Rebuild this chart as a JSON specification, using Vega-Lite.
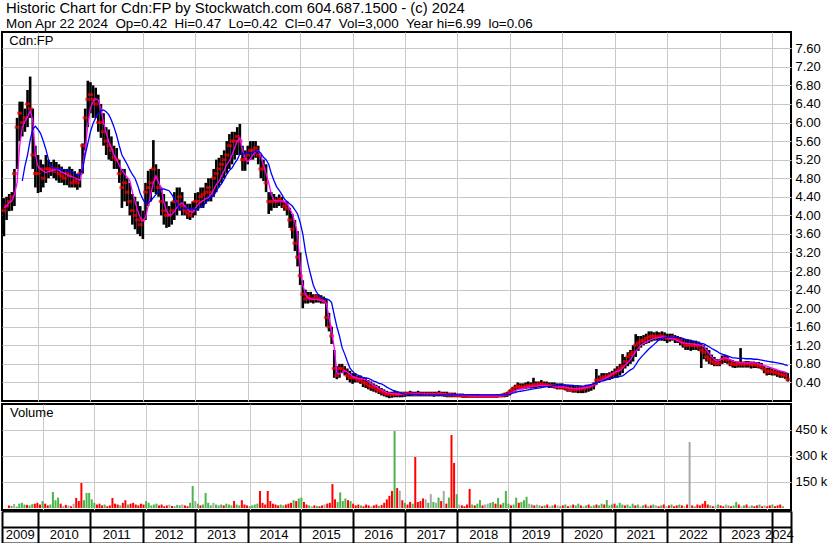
{
"$schema":"https://vega.github.io/schema/vega-lite/v6.json",
"padding":0,
"background":"white",
"config":{"font":"Liberation Sans","view":{"stroke":"black","strokeWidth":2},"axis":{"labelFont":"Liberation Sans","labelFontSize":13,"labelColor":"black","gridColor":"#c8c8c8","gridWidth":1,"ticks":false,"domain":false,"labelOverlap":false},"title":{"font":"Liberation Sans","fontSize":13,"fontWeight":"normal","color":"black","subtitleFont":"Liberation Sans","subtitleColor":"black"}},
"title":{"text":"Historic Chart for Cdn:FP by Stockwatch.com 604.687.1500 - (c) 2024","subtitle":"Mon Apr 22 2024\u00a0 Op=0.42\u00a0 Hi=0.47\u00a0 Lo=0.42\u00a0 Cl=0.47\u00a0 Vol=3,000\u00a0 Year hi=6.99\u00a0 lo=0.06","fontSize":14.8,"subtitleFontSize":13.4,"subtitlePadding":1,"anchor":"start","frame":"group","offset":1,"dx":4},
"datasets":{
"px":[
{"t":2009.35,"h":4.37,"l":3.55,"c":4.1,"m":4.16,"b":null,"v":15000,"d":"d"},
{"t":2009.40,"h":4.4,"l":3.9,"c":4.2,"m":4.2,"b":null,"v":12000,"d":"u"},
{"t":2009.45,"h":4.46,"l":4.09,"c":4.3,"m":4.28,"b":null,"v":23000,"d":"n"},
{"t":2009.50,"h":4.5,"l":4.1,"c":4.4,"m":4.31,"b":null,"v":8000,"d":"u"},
{"t":2009.55,"h":5.0,"l":4.2,"c":4.9,"m":4.45,"b":null,"v":25000,"d":"u"},
{"t":2009.60,"h":6.1,"l":5.0,"c":5.9,"m":4.7,"b":null,"v":30000,"d":"u"},
{"t":2009.65,"h":6.45,"l":5.6,"c":6.2,"m":5.5,"b":null,"v":20000,"d":"u"},
{"t":2009.70,"h":6.45,"l":5.7,"c":6.0,"m":5.9,"b":4.74,"v":18000,"d":"d"},
{"t":2009.75,"h":6.3,"l":5.8,"c":6.1,"m":6.03,"b":5.06,"v":15000,"d":"u"},
{"t":2009.80,"h":6.7,"l":5.9,"c":6.4,"m":6.12,"b":5.3,"v":22000,"d":"u"},
{"t":2009.85,"h":6.99,"l":6.1,"c":6.3,"m":6.25,"b":5.62,"v":25000,"d":"d"},
{"t":2009.90,"h":6.3,"l":5.0,"c":5.3,"m":6.05,"b":5.86,"v":30000,"d":"d"},
{"t":2009.95,"h":5.5,"l":4.6,"c":4.9,"m":5.3,"b":5.92,"v":20000,"d":"d"},
{"t":2010.00,"h":5.3,"l":4.48,"c":4.9,"m":5.05,"b":5.85,"v":40000,"d":"u"},
{"t":2010.05,"h":5.2,"l":4.5,"c":5.0,"m":5.0,"b":5.76,"v":25000,"d":"d"},
{"t":2010.10,"h":5.1,"l":4.6,"c":4.8,"m":4.95,"b":5.6,"v":15000,"d":"d"},
{"t":2010.15,"h":5.3,"l":4.7,"c":5.0,"m":4.92,"b":5.42,"v":20000,"d":"u"},
{"t":2010.20,"h":5.2,"l":4.8,"c":5.0,"m":4.94,"b":5.2,"v":92000,"d":"u"},
{"t":2010.25,"h":5.15,"l":4.85,"c":5.0,"m":4.96,"b":5.05,"v":45000,"d":"u"},
{"t":2010.30,"h":5.2,"l":4.8,"c":4.95,"m":4.98,"b":5.02,"v":60000,"d":"u"},
{"t":2010.35,"h":5.15,"l":4.75,"c":5.0,"m":5.0,"b":5.0,"v":25000,"d":"d"},
{"t":2010.40,"h":5.1,"l":4.7,"c":4.9,"m":4.97,"b":5.0,"v":12000,"d":"n"},
{"t":2010.45,"h":5.05,"l":4.7,"c":4.85,"m":4.93,"b":4.99,"v":18000,"d":"d"},
{"t":2010.50,"h":5.0,"l":4.65,"c":4.8,"m":4.91,"b":4.98,"v":15000,"d":"n"},
{"t":2010.55,"h":5.0,"l":4.65,"c":4.9,"m":4.88,"b":4.97,"v":10000,"d":"d"},
{"t":2010.60,"h":5.05,"l":4.6,"c":4.85,"m":4.85,"b":4.96,"v":25000,"d":"n"},
{"t":2010.65,"h":5.0,"l":4.6,"c":4.7,"m":4.83,"b":4.93,"v":58000,"d":"d"},
{"t":2010.70,"h":4.95,"l":4.6,"c":4.75,"m":4.81,"b":4.9,"v":40000,"d":"d"},
{"t":2010.75,"h":4.9,"l":4.55,"c":4.7,"m":4.78,"b":4.86,"v":144000,"d":"d"},
{"t":2010.80,"h":5.0,"l":4.6,"c":4.9,"m":4.75,"b":4.88,"v":45000,"d":"u"},
{"t":2010.85,"h":5.55,"l":4.9,"c":5.5,"m":5.05,"b":4.98,"v":87000,"d":"u"},
{"t":2010.90,"h":6.3,"l":5.4,"c":6.1,"m":5.4,"b":5.3,"v":87000,"d":"u"},
{"t":2010.95,"h":6.9,"l":5.9,"c":6.5,"m":5.95,"b":5.55,"v":50000,"d":"u"},
{"t":2011.00,"h":6.87,"l":6.2,"c":6.6,"m":6.31,"b":5.8,"v":30000,"d":"u"},
{"t":2011.05,"h":6.8,"l":6.1,"c":6.5,"m":6.45,"b":5.98,"v":20000,"d":"d"},
{"t":2011.10,"h":6.75,"l":6.1,"c":6.4,"m":6.51,"b":6.1,"v":25000,"d":"d"},
{"t":2011.15,"h":6.6,"l":5.8,"c":6.0,"m":6.48,"b":6.19,"v":15000,"d":"d"},
{"t":2011.20,"h":6.4,"l":5.67,"c":6.0,"m":6.3,"b":6.25,"v":20000,"d":"u"},
{"t":2011.25,"h":6.2,"l":5.5,"c":5.8,"m":6.0,"b":6.27,"v":10000,"d":"d"},
{"t":2011.30,"h":5.9,"l":5.3,"c":5.6,"m":5.78,"b":6.23,"v":15000,"d":"d"},
{"t":2011.35,"h":5.85,"l":5.2,"c":5.5,"m":5.58,"b":6.17,"v":58000,"d":"d"},
{"t":2011.40,"h":5.7,"l":5.17,"c":5.4,"m":5.45,"b":6.05,"v":25000,"d":"d"},
{"t":2011.45,"h":5.5,"l":5.0,"c":5.25,"m":5.3,"b":5.9,"v":20000,"d":"d"},
{"t":2011.50,"h":5.45,"l":5.0,"c":5.2,"m":5.2,"b":5.72,"v":15000,"d":"u"},
{"t":2011.55,"h":5.2,"l":4.7,"c":4.9,"m":5.08,"b":5.5,"v":30000,"d":"d"},
{"t":2011.60,"h":5.0,"l":4.16,"c":4.6,"m":4.97,"b":5.3,"v":45000,"d":"d"},
{"t":2011.65,"h":5.0,"l":4.3,"c":4.7,"m":4.9,"b":5.2,"v":20000,"d":"u"},
{"t":2011.70,"h":4.8,"l":4.2,"c":4.5,"m":4.82,"b":5.1,"v":25000,"d":"d"},
{"t":2011.75,"h":4.7,"l":4.0,"c":4.3,"m":4.75,"b":4.98,"v":30000,"d":"d"},
{"t":2011.80,"h":4.46,"l":3.8,"c":4.1,"m":4.5,"b":4.88,"v":20000,"d":"d"},
{"t":2011.85,"h":4.4,"l":3.7,"c":4.0,"m":4.3,"b":4.8,"v":15000,"d":"d"},
{"t":2011.90,"h":4.3,"l":3.6,"c":3.9,"m":4.1,"b":4.65,"v":25000,"d":"d"},
{"t":2011.95,"h":4.2,"l":3.55,"c":3.8,"m":3.95,"b":4.47,"v":20000,"d":"d"},
{"t":2012.00,"h":4.1,"l":3.49,"c":3.9,"m":3.88,"b":4.35,"v":40000,"d":"u"},
{"t":2012.05,"h":4.7,"l":3.9,"c":4.5,"m":3.95,"b":4.25,"v":30000,"d":"u"},
{"t":2012.10,"h":4.96,"l":4.2,"c":4.6,"m":4.2,"b":4.27,"v":15000,"d":"u"},
{"t":2012.15,"h":5.0,"l":4.3,"c":4.7,"m":4.46,"b":4.31,"v":20000,"d":"u"},
{"t":2012.20,"h":5.62,"l":4.5,"c":5.0,"m":4.7,"b":4.38,"v":25000,"d":"u"},
{"t":2012.25,"h":5.1,"l":4.46,"c":4.8,"m":4.85,"b":4.45,"v":15000,"d":"d"},
{"t":2012.30,"h":5.0,"l":4.4,"c":4.6,"m":4.7,"b":4.5,"v":20000,"d":"d"},
{"t":2012.35,"h":4.6,"l":4.0,"c":4.3,"m":4.6,"b":4.56,"v":10000,"d":"d"},
{"t":2012.40,"h":4.46,"l":3.8,"c":4.1,"m":4.28,"b":4.57,"v":15000,"d":"d"},
{"t":2012.45,"h":4.3,"l":3.73,"c":4.0,"m":4.1,"b":4.55,"v":20000,"d":"n"},
{"t":2012.50,"h":4.2,"l":3.75,"c":4.0,"m":4.0,"b":4.53,"v":12000,"d":"d"},
{"t":2012.55,"h":4.3,"l":3.8,"c":4.1,"m":4.02,"b":4.45,"v":10000,"d":"u"},
{"t":2012.60,"h":4.5,"l":3.9,"c":4.3,"m":4.08,"b":4.36,"v":18000,"d":"u"},
{"t":2012.65,"h":4.6,"l":4.0,"c":4.3,"m":4.17,"b":4.25,"v":15000,"d":"u"},
{"t":2012.70,"h":4.6,"l":4.1,"c":4.4,"m":4.24,"b":4.14,"v":20000,"d":"n"},
{"t":2012.75,"h":4.5,"l":4.0,"c":4.2,"m":4.27,"b":4.15,"v":15000,"d":"d"},
{"t":2012.80,"h":4.3,"l":4.0,"c":4.1,"m":4.2,"b":4.16,"v":10000,"d":"d"},
{"t":2012.85,"h":4.25,"l":3.92,"c":4.05,"m":4.14,"b":4.15,"v":30000,"d":"u"},
{"t":2012.90,"h":4.25,"l":3.9,"c":4.0,"m":4.08,"b":4.14,"v":127000,"d":"u"},
{"t":2012.95,"h":4.3,"l":3.95,"c":4.1,"m":4.06,"b":4.14,"v":40000,"d":"n"},
{"t":2013.00,"h":4.48,"l":4.0,"c":4.3,"m":4.15,"b":4.14,"v":25000,"d":"u"},
{"t":2013.05,"h":4.5,"l":4.1,"c":4.3,"m":4.23,"b":4.15,"v":15000,"d":"d"},
{"t":2013.10,"h":4.6,"l":4.16,"c":4.4,"m":4.28,"b":4.17,"v":20000,"d":"u"},
{"t":2013.15,"h":4.6,"l":4.16,"c":4.45,"m":4.32,"b":4.2,"v":87000,"d":"u"},
{"t":2013.20,"h":4.7,"l":4.25,"c":4.5,"m":4.36,"b":4.28,"v":30000,"d":"u"},
{"t":2013.25,"h":4.8,"l":4.3,"c":4.6,"m":4.38,"b":4.35,"v":15000,"d":"u"},
{"t":2013.30,"h":4.8,"l":4.3,"c":4.5,"m":4.45,"b":4.4,"v":30000,"d":"n"},
{"t":2013.35,"h":5.0,"l":4.4,"c":4.8,"m":4.55,"b":4.42,"v":20000,"d":"u"},
{"t":2013.40,"h":5.2,"l":4.5,"c":4.9,"m":4.66,"b":4.52,"v":15000,"d":"u"},
{"t":2013.45,"h":5.24,"l":4.6,"c":5.0,"m":4.73,"b":4.62,"v":20000,"d":"u"},
{"t":2013.50,"h":5.3,"l":4.7,"c":5.1,"m":4.85,"b":4.68,"v":15000,"d":"d"},
{"t":2013.55,"h":5.4,"l":4.8,"c":5.2,"m":4.96,"b":4.78,"v":25000,"d":"u"},
{"t":2013.60,"h":5.6,"l":4.9,"c":5.3,"m":5.1,"b":4.88,"v":20000,"d":"u"},
{"t":2013.65,"h":5.75,"l":5.0,"c":5.5,"m":5.17,"b":4.97,"v":15000,"d":"u"},
{"t":2013.70,"h":5.8,"l":5.1,"c":5.6,"m":5.3,"b":5.02,"v":40000,"d":"d"},
{"t":2013.75,"h":5.8,"l":5.2,"c":5.6,"m":5.45,"b":5.12,"v":20000,"d":"u"},
{"t":2013.80,"h":5.9,"l":5.3,"c":5.7,"m":5.6,"b":5.2,"v":15000,"d":"u"},
{"t":2013.85,"h":5.97,"l":5.3,"c":5.6,"m":5.67,"b":5.32,"v":45000,"d":"d"},
{"t":2013.90,"h":5.5,"l":4.96,"c":5.2,"m":5.4,"b":5.33,"v":20000,"d":"d"},
{"t":2013.95,"h":5.4,"l":4.96,"c":5.2,"m":5.24,"b":5.33,"v":15000,"d":"d"},
{"t":2014.00,"h":5.5,"l":5.1,"c":5.3,"m":5.15,"b":5.34,"v":10000,"d":"u"},
{"t":2014.05,"h":5.6,"l":5.2,"c":5.4,"m":5.22,"b":5.34,"v":15000,"d":"u"},
{"t":2014.10,"h":5.6,"l":5.2,"c":5.4,"m":5.3,"b":5.36,"v":20000,"d":"u"},
{"t":2014.15,"h":5.6,"l":5.24,"c":5.45,"m":5.37,"b":5.38,"v":25000,"d":"u"},
{"t":2014.20,"h":5.5,"l":5.1,"c":5.3,"m":5.4,"b":5.39,"v":98000,"d":"d"},
{"t":2014.25,"h":5.3,"l":4.8,"c":5.0,"m":5.28,"b":5.34,"v":30000,"d":"d"},
{"t":2014.30,"h":5.2,"l":4.74,"c":5.0,"m":5.08,"b":5.25,"v":20000,"d":"d"},
{"t":2014.35,"h":5.1,"l":4.5,"c":4.7,"m":4.9,"b":5.2,"v":98000,"d":"d"},
{"t":2014.40,"h":4.5,"l":4.03,"c":4.3,"m":4.7,"b":5.1,"v":40000,"d":"d"},
{"t":2014.45,"h":4.5,"l":4.1,"c":4.3,"m":4.45,"b":4.9,"v":25000,"d":"d"},
{"t":2014.50,"h":4.46,"l":4.16,"c":4.3,"m":4.33,"b":4.75,"v":20000,"d":"d"},
{"t":2014.55,"h":4.4,"l":4.16,"c":4.3,"m":4.31,"b":4.62,"v":15000,"d":"d"},
{"t":2014.60,"h":4.45,"l":4.2,"c":4.35,"m":4.31,"b":4.54,"v":20000,"d":"u"},
{"t":2014.65,"h":4.4,"l":4.16,"c":4.3,"m":4.31,"b":4.45,"v":15000,"d":"u"},
{"t":2014.70,"h":4.3,"l":4.1,"c":4.2,"m":4.29,"b":4.35,"v":20000,"d":"d"},
{"t":2014.75,"h":4.3,"l":4.0,"c":4.15,"m":4.25,"b":4.3,"v":25000,"d":"d"},
{"t":2014.80,"h":4.16,"l":3.73,"c":3.9,"m":4.15,"b":4.25,"v":30000,"d":"d"},
{"t":2014.85,"h":4.03,"l":3.5,"c":3.7,"m":4.03,"b":4.2,"v":45000,"d":"u"},
{"t":2014.90,"h":3.9,"l":3.23,"c":3.4,"m":3.85,"b":4.12,"v":40000,"d":"d"},
{"t":2014.95,"h":3.66,"l":2.9,"c":3.1,"m":3.6,"b":4.03,"v":55000,"d":"u"},
{"t":2015.00,"h":3.2,"l":2.5,"c":2.7,"m":2.9,"b":3.85,"v":60000,"d":"u"},
{"t":2015.05,"h":2.6,"l":2.0,"c":2.3,"m":2.5,"b":3.6,"v":35000,"d":"d"},
{"t":2015.10,"h":2.4,"l":2.1,"c":2.2,"m":2.3,"b":3.23,"v":20000,"d":"d"},
{"t":2015.15,"h":2.35,"l":2.1,"c":2.25,"m":2.22,"b":2.95,"v":15000,"d":"u"},
{"t":2015.20,"h":2.35,"l":2.12,"c":2.2,"m":2.2,"b":2.72,"v":10000,"d":"n"},
{"t":2015.25,"h":2.3,"l":2.1,"c":2.2,"m":2.19,"b":2.5,"v":15000,"d":"d"},
{"t":2015.30,"h":2.3,"l":2.12,"c":2.25,"m":2.19,"b":2.37,"v":12000,"d":"u"},
{"t":2015.35,"h":2.3,"l":2.12,"c":2.2,"m":2.18,"b":2.28,"v":10000,"d":"d"},
{"t":2015.40,"h":2.28,"l":2.1,"c":2.2,"m":2.17,"b":2.22,"v":15000,"d":"d"},
{"t":2015.45,"h":2.25,"l":2.1,"c":2.15,"m":2.16,"b":2.21,"v":20000,"d":"n"},
{"t":2015.50,"h":2.2,"l":1.6,"c":1.8,"m":2.1,"b":2.2,"v":25000,"d":"d"},
{"t":2015.55,"h":1.9,"l":1.5,"c":1.6,"m":1.8,"b":2.18,"v":30000,"d":"d"},
{"t":2015.60,"h":1.6,"l":1.23,"c":1.4,"m":1.5,"b":2.12,"v":138000,"d":"d"},
{"t":2015.65,"h":1.1,"l":0.5,"c":0.7,"m":1.15,"b":1.85,"v":50000,"d":"d"},
{"t":2015.70,"h":0.75,"l":0.47,"c":0.55,"m":0.6,"b":1.6,"v":35000,"d":"u"},
{"t":2015.75,"h":0.8,"l":0.5,"c":0.7,"m":0.58,"b":1.4,"v":90000,"d":"u"},
{"t":2015.80,"h":0.8,"l":0.6,"c":0.7,"m":0.62,"b":1.15,"v":40000,"d":"u"},
{"t":2015.85,"h":0.75,"l":0.55,"c":0.65,"m":0.65,"b":1.01,"v":55000,"d":"u"},
{"t":2015.90,"h":0.7,"l":0.45,"c":0.55,"m":0.62,"b":0.85,"v":45000,"d":"d"},
{"t":2015.95,"h":0.65,"l":0.4,"c":0.5,"m":0.58,"b":0.71,"v":40000,"d":"u"},
{"t":2016.00,"h":0.6,"l":0.37,"c":0.5,"m":0.53,"b":0.64,"v":25000,"d":"d"},
{"t":2016.05,"h":0.6,"l":0.4,"c":0.5,"m":0.5,"b":0.58,"v":15000,"d":"d"},
{"t":2016.10,"h":0.55,"l":0.4,"c":0.45,"m":0.49,"b":0.56,"v":20000,"d":"d"},
{"t":2016.15,"h":0.55,"l":0.37,"c":0.45,"m":0.48,"b":0.53,"v":15000,"d":"u"},
{"t":2016.20,"h":0.5,"l":0.3,"c":0.4,"m":0.47,"b":0.51,"v":10000,"d":"d"},
{"t":2016.25,"h":0.5,"l":0.28,"c":0.38,"m":0.46,"b":0.5,"v":20000,"d":"d"},
{"t":2016.30,"h":0.45,"l":0.25,"c":0.33,"m":0.42,"b":0.49,"v":15000,"d":"d"},
{"t":2016.35,"h":0.42,"l":0.22,"c":0.3,"m":0.38,"b":0.46,"v":10000,"d":"n"},
{"t":2016.40,"h":0.38,"l":0.2,"c":0.3,"m":0.34,"b":0.43,"v":15000,"d":"d"},
{"t":2016.45,"h":0.35,"l":0.18,"c":0.25,"m":0.31,"b":0.41,"v":20000,"d":"d"},
{"t":2016.50,"h":0.32,"l":0.15,"c":0.22,"m":0.27,"b":0.38,"v":12000,"d":"u"},
{"t":2016.55,"h":0.28,"l":0.12,"c":0.2,"m":0.24,"b":0.37,"v":18000,"d":"d"},
{"t":2016.60,"h":0.25,"l":0.1,"c":0.17,"m":0.21,"b":0.34,"v":30000,"d":"d"},
{"t":2016.65,"h":0.22,"l":0.08,"c":0.15,"m":0.18,"b":0.3,"v":50000,"d":"d"},
{"t":2016.70,"h":0.2,"l":0.06,"c":0.14,"m":0.17,"b":0.27,"v":70000,"d":"d"},
{"t":2016.75,"h":0.2,"l":0.07,"c":0.14,"m":0.16,"b":0.24,"v":98000,"d":"d"},
{"t":2016.80,"h":0.22,"l":0.08,"c":0.15,"m":0.16,"b":0.22,"v":444000,"d":"u"},
{"t":2016.85,"h":0.2,"l":0.08,"c":0.14,"m":0.15,"b":0.2,"v":115000,"d":"d"},
{"t":2016.90,"h":0.2,"l":0.08,"c":0.15,"m":0.15,"b":0.18,"v":100000,"d":"n"},
{"t":2016.95,"h":0.2,"l":0.08,"c":0.16,"m":0.15,"b":0.16,"v":45000,"d":"d"},
{"t":2017.00,"h":0.2,"l":0.09,"c":0.15,"m":0.15,"b":0.15,"v":30000,"d":"u"},
{"t":2017.05,"h":0.2,"l":0.1,"c":0.16,"m":0.15,"b":0.15,"v":20000,"d":"d"},
{"t":2017.10,"h":0.22,"l":0.1,"c":0.17,"m":0.15,"b":0.14,"v":35000,"d":"d"},
{"t":2017.15,"h":0.2,"l":0.1,"c":0.15,"m":0.16,"b":0.14,"v":25000,"d":"u"},
{"t":2017.20,"h":0.2,"l":0.1,"c":0.14,"m":0.16,"b":0.14,"v":294000,"d":"d"},
{"t":2017.25,"h":0.22,"l":0.1,"c":0.16,"m":0.16,"b":0.14,"v":35000,"d":"d"},
{"t":2017.30,"h":0.2,"l":0.1,"c":0.15,"m":0.15,"b":0.14,"v":40000,"d":"d"},
{"t":2017.35,"h":0.2,"l":0.1,"c":0.15,"m":0.15,"b":0.13,"v":55000,"d":"d"},
{"t":2017.40,"h":0.2,"l":0.1,"c":0.14,"m":0.15,"b":0.13,"v":50000,"d":"n"},
{"t":2017.45,"h":0.2,"l":0.1,"c":0.15,"m":0.15,"b":0.13,"v":30000,"d":"u"},
{"t":2017.50,"h":0.2,"l":0.1,"c":0.15,"m":0.15,"b":0.13,"v":80000,"d":"n"},
{"t":2017.55,"h":0.2,"l":0.09,"c":0.14,"m":0.15,"b":0.13,"v":35000,"d":"u"},
{"t":2017.60,"h":0.2,"l":0.1,"c":0.15,"m":0.15,"b":0.13,"v":30000,"d":"n"},
{"t":2017.65,"h":0.22,"l":0.1,"c":0.16,"m":0.15,"b":0.13,"v":60000,"d":"u"},
{"t":2017.70,"h":0.2,"l":0.1,"c":0.15,"m":0.15,"b":0.13,"v":40000,"d":"d"},
{"t":2017.75,"h":0.2,"l":0.09,"c":0.14,"m":0.15,"b":0.13,"v":98000,"d":"n"},
{"t":2017.80,"h":0.2,"l":0.08,"c":0.13,"m":0.14,"b":0.13,"v":25000,"d":"d"},
{"t":2017.85,"h":0.18,"l":0.08,"c":0.13,"m":0.14,"b":0.13,"v":60000,"d":"u"},
{"t":2017.90,"h":0.18,"l":0.08,"c":0.13,"m":0.14,"b":0.13,"v":421000,"d":"d"},
{"t":2017.95,"h":0.18,"l":0.08,"c":0.12,"m":0.13,"b":0.13,"v":260000,"d":"d"},
{"t":2018.00,"h":0.16,"l":0.08,"c":0.12,"m":0.13,"b":0.13,"v":80000,"d":"u"},
{"t":2018.05,"h":0.16,"l":0.08,"c":0.12,"m":0.13,"b":0.13,"v":20000,"d":"n"},
{"t":2018.10,"h":0.16,"l":0.07,"c":0.11,"m":0.12,"b":0.13,"v":15000,"d":"d"},
{"t":2018.15,"h":0.15,"l":0.07,"c":0.11,"m":0.12,"b":0.13,"v":10000,"d":"d"},
{"t":2018.20,"h":0.15,"l":0.07,"c":0.1,"m":0.12,"b":0.13,"v":20000,"d":"d"},
{"t":2018.25,"h":0.15,"l":0.07,"c":0.1,"m":0.11,"b":0.13,"v":110000,"d":"d"},
{"t":2018.30,"h":0.15,"l":0.07,"c":0.11,"m":0.11,"b":0.13,"v":20000,"d":"u"},
{"t":2018.35,"h":0.15,"l":0.07,"c":0.11,"m":0.11,"b":0.13,"v":15000,"d":"d"},
{"t":2018.40,"h":0.15,"l":0.07,"c":0.1,"m":0.11,"b":0.13,"v":25000,"d":"u"},
{"t":2018.45,"h":0.14,"l":0.07,"c":0.1,"m":0.11,"b":0.13,"v":46000,"d":"u"},
{"t":2018.50,"h":0.14,"l":0.07,"c":0.1,"m":0.11,"b":0.13,"v":15000,"d":"d"},
{"t":2018.55,"h":0.14,"l":0.07,"c":0.1,"m":0.11,"b":0.13,"v":20000,"d":"n"},
{"t":2018.60,"h":0.14,"l":0.07,"c":0.1,"m":0.11,"b":0.13,"v":25000,"d":"n"},
{"t":2018.65,"h":0.14,"l":0.07,"c":0.1,"m":0.11,"b":0.13,"v":30000,"d":"u"},
{"t":2018.70,"h":0.14,"l":0.07,"c":0.1,"m":0.11,"b":0.13,"v":35000,"d":"u"},
{"t":2018.75,"h":0.15,"l":0.07,"c":0.11,"m":0.11,"b":0.13,"v":25000,"d":"d"},
{"t":2018.80,"h":0.15,"l":0.08,"c":0.11,"m":0.11,"b":0.13,"v":58000,"d":"u"},
{"t":2018.85,"h":0.16,"l":0.08,"c":0.12,"m":0.12,"b":0.13,"v":20000,"d":"d"},
{"t":2018.90,"h":0.18,"l":0.08,"c":0.13,"m":0.13,"b":0.13,"v":30000,"d":"u"},
{"t":2018.95,"h":0.2,"l":0.09,"c":0.15,"m":0.14,"b":0.14,"v":98000,"d":"u"},
{"t":2019.00,"h":0.25,"l":0.12,"c":0.2,"m":0.16,"b":0.15,"v":25000,"d":"u"},
{"t":2019.05,"h":0.3,"l":0.18,"c":0.25,"m":0.19,"b":0.17,"v":15000,"d":"d"},
{"t":2019.10,"h":0.35,"l":0.2,"c":0.3,"m":0.22,"b":0.18,"v":20000,"d":"u"},
{"t":2019.15,"h":0.4,"l":0.24,"c":0.32,"m":0.25,"b":0.2,"v":60000,"d":"u"},
{"t":2019.20,"h":0.38,"l":0.25,"c":0.3,"m":0.26,"b":0.21,"v":30000,"d":"d"},
{"t":2019.25,"h":0.38,"l":0.25,"c":0.3,"m":0.27,"b":0.22,"v":35000,"d":"u"},
{"t":2019.30,"h":0.4,"l":0.26,"c":0.32,"m":0.28,"b":0.23,"v":45000,"d":"u"},
{"t":2019.35,"h":0.42,"l":0.27,"c":0.33,"m":0.3,"b":0.24,"v":65000,"d":"u"},
{"t":2019.40,"h":0.4,"l":0.27,"c":0.33,"m":0.31,"b":0.25,"v":25000,"d":"n"},
{"t":2019.45,"h":0.5,"l":0.28,"c":0.35,"m":0.32,"b":0.26,"v":20000,"d":"u"},
{"t":2019.50,"h":0.42,"l":0.28,"c":0.35,"m":0.32,"b":0.27,"v":15000,"d":"d"},
{"t":2019.55,"h":0.42,"l":0.3,"c":0.36,"m":0.33,"b":0.28,"v":20000,"d":"n"},
{"t":2019.60,"h":0.45,"l":0.3,"c":0.37,"m":0.33,"b":0.29,"v":15000,"d":"u"},
{"t":2019.65,"h":0.42,"l":0.3,"c":0.35,"m":0.33,"b":0.3,"v":10000,"d":"d"},
{"t":2019.70,"h":0.42,"l":0.3,"c":0.35,"m":0.33,"b":0.31,"v":15000,"d":"u"},
{"t":2019.75,"h":0.4,"l":0.28,"c":0.33,"m":0.32,"b":0.31,"v":20000,"d":"d"},
{"t":2019.80,"h":0.4,"l":0.28,"c":0.33,"m":0.32,"b":0.32,"v":10000,"d":"n"},
{"t":2019.85,"h":0.4,"l":0.27,"c":0.32,"m":0.31,"b":0.33,"v":15000,"d":"u"},
{"t":2019.90,"h":0.38,"l":0.25,"c":0.3,"m":0.31,"b":0.33,"v":20000,"d":"d"},
{"t":2019.95,"h":0.38,"l":0.25,"c":0.3,"m":0.3,"b":0.34,"v":15000,"d":"n"},
{"t":2020.00,"h":0.38,"l":0.25,"c":0.3,"m":0.3,"b":0.34,"v":10000,"d":"u"},
{"t":2020.05,"h":0.36,"l":0.23,"c":0.28,"m":0.3,"b":0.34,"v":15000,"d":"d"},
{"t":2020.10,"h":0.35,"l":0.2,"c":0.25,"m":0.29,"b":0.34,"v":20000,"d":"u"},
{"t":2020.15,"h":0.34,"l":0.2,"c":0.25,"m":0.28,"b":0.34,"v":10000,"d":"d"},
{"t":2020.20,"h":0.35,"l":0.18,"c":0.24,"m":0.27,"b":0.33,"v":15000,"d":"n"},
{"t":2020.25,"h":0.32,"l":0.18,"c":0.24,"m":0.27,"b":0.33,"v":20000,"d":"d"},
{"t":2020.30,"h":0.32,"l":0.17,"c":0.25,"m":0.27,"b":0.33,"v":15000,"d":"u"},
{"t":2020.35,"h":0.33,"l":0.17,"c":0.26,"m":0.27,"b":0.32,"v":25000,"d":"u"},
{"t":2020.40,"h":0.32,"l":0.17,"c":0.26,"m":0.28,"b":0.32,"v":15000,"d":"d"},
{"t":2020.45,"h":0.35,"l":0.18,"c":0.28,"m":0.29,"b":0.33,"v":10000,"d":"n"},
{"t":2020.50,"h":0.35,"l":0.2,"c":0.3,"m":0.3,"b":0.34,"v":15000,"d":"u"},
{"t":2020.55,"h":0.36,"l":0.22,"c":0.32,"m":0.32,"b":0.35,"v":20000,"d":"d"},
{"t":2020.60,"h":0.4,"l":0.25,"c":0.35,"m":0.35,"b":0.37,"v":10000,"d":"u"},
{"t":2020.65,"h":0.69,"l":0.35,"c":0.45,"m":0.39,"b":0.39,"v":15000,"d":"u"},
{"t":2020.70,"h":0.55,"l":0.39,"c":0.45,"m":0.42,"b":0.41,"v":20000,"d":"d"},
{"t":2020.75,"h":0.6,"l":0.43,"c":0.5,"m":0.45,"b":0.43,"v":15000,"d":"u"},
{"t":2020.80,"h":0.6,"l":0.43,"c":0.52,"m":0.48,"b":0.44,"v":25000,"d":"u"},
{"t":2020.85,"h":0.6,"l":0.45,"c":0.52,"m":0.51,"b":0.46,"v":20000,"d":"d"},
{"t":2020.90,"h":0.62,"l":0.45,"c":0.55,"m":0.54,"b":0.47,"v":46000,"d":"u"},
{"t":2020.95,"h":0.65,"l":0.48,"c":0.58,"m":0.58,"b":0.49,"v":15000,"d":"u"},
{"t":2021.00,"h":0.7,"l":0.5,"c":0.6,"m":0.62,"b":0.51,"v":20000,"d":"u"},
{"t":2021.05,"h":0.75,"l":0.5,"c":0.65,"m":0.64,"b":0.52,"v":25000,"d":"d"},
{"t":2021.10,"h":0.8,"l":0.55,"c":0.7,"m":0.66,"b":0.53,"v":15000,"d":"u"},
{"t":2021.15,"h":1.01,"l":0.6,"c":0.75,"m":0.72,"b":0.54,"v":30000,"d":"u"},
{"t":2021.20,"h":0.95,"l":0.7,"c":0.85,"m":0.78,"b":0.58,"v":20000,"d":"u"},
{"t":2021.25,"h":1.05,"l":0.75,"c":0.95,"m":0.83,"b":0.63,"v":15000,"d":"d"},
{"t":2021.30,"h":1.1,"l":0.8,"c":1.0,"m":0.89,"b":0.67,"v":20000,"d":"u"},
{"t":2021.35,"h":1.2,"l":0.85,"c":1.05,"m":0.98,"b":0.7,"v":10000,"d":"u"},
{"t":2021.40,"h":1.44,"l":0.95,"c":1.2,"m":1.07,"b":0.78,"v":25000,"d":"u"},
{"t":2021.45,"h":1.4,"l":1.08,"c":1.25,"m":1.14,"b":0.87,"v":15000,"d":"d"},
{"t":2021.50,"h":1.4,"l":1.15,"c":1.3,"m":1.2,"b":0.94,"v":20000,"d":"u"},
{"t":2021.55,"h":1.42,"l":1.2,"c":1.3,"m":1.24,"b":1.0,"v":10000,"d":"n"},
{"t":2021.60,"h":1.45,"l":1.23,"c":1.35,"m":1.27,"b":1.06,"v":15000,"d":"u"},
{"t":2021.65,"h":1.5,"l":1.25,"c":1.38,"m":1.3,"b":1.12,"v":20000,"d":"d"},
{"t":2021.70,"h":1.5,"l":1.28,"c":1.4,"m":1.33,"b":1.17,"v":10000,"d":"u"},
{"t":2021.75,"h":1.48,"l":1.3,"c":1.4,"m":1.35,"b":1.22,"v":15000,"d":"d"},
{"t":2021.80,"h":1.5,"l":1.3,"c":1.38,"m":1.36,"b":1.27,"v":20000,"d":"u"},
{"t":2021.85,"h":1.48,"l":1.3,"c":1.4,"m":1.37,"b":1.33,"v":15000,"d":"n"},
{"t":2021.90,"h":1.5,"l":1.3,"c":1.4,"m":1.38,"b":1.35,"v":10000,"d":"d"},
{"t":2021.95,"h":1.48,"l":1.29,"c":1.38,"m":1.37,"b":1.36,"v":15000,"d":"u"},
{"t":2022.00,"h":1.45,"l":1.25,"c":1.35,"m":1.36,"b":1.37,"v":20000,"d":"d"},
{"t":2022.05,"h":1.45,"l":1.28,"c":1.35,"m":1.35,"b":1.38,"v":10000,"d":"n"},
{"t":2022.10,"h":1.45,"l":1.3,"c":1.38,"m":1.34,"b":1.37,"v":15000,"d":"d"},
{"t":2022.15,"h":1.42,"l":1.25,"c":1.35,"m":1.33,"b":1.37,"v":20000,"d":"u"},
{"t":2022.20,"h":1.4,"l":1.25,"c":1.32,"m":1.3,"b":1.37,"v":10000,"d":"d"},
{"t":2022.25,"h":1.38,"l":1.2,"c":1.3,"m":1.27,"b":1.36,"v":15000,"d":"d"},
{"t":2022.30,"h":1.35,"l":1.15,"c":1.25,"m":1.25,"b":1.35,"v":20000,"d":"u"},
{"t":2022.35,"h":1.33,"l":1.1,"c":1.2,"m":1.24,"b":1.33,"v":15000,"d":"d"},
{"t":2022.40,"h":1.33,"l":1.1,"c":1.2,"m":1.24,"b":1.31,"v":10000,"d":"n"},
{"t":2022.45,"h":1.32,"l":1.08,"c":1.2,"m":1.23,"b":1.3,"v":20000,"d":"d"},
{"t":2022.50,"h":1.3,"l":1.1,"c":1.2,"m":1.23,"b":1.29,"v":381000,"d":"n"},
{"t":2022.55,"h":1.3,"l":1.1,"c":1.2,"m":1.22,"b":1.27,"v":15000,"d":"d"},
{"t":2022.60,"h":1.28,"l":1.08,"c":1.18,"m":1.21,"b":1.26,"v":10000,"d":"u"},
{"t":2022.65,"h":1.25,"l":0.71,"c":1.1,"m":1.2,"b":1.24,"v":20000,"d":"d"},
{"t":2022.70,"h":1.2,"l":0.9,"c":1.05,"m":1.17,"b":1.23,"v":15000,"d":"d"},
{"t":2022.75,"h":1.15,"l":0.85,"c":0.95,"m":1.1,"b":1.2,"v":25000,"d":"d"},
{"t":2022.80,"h":1.1,"l":0.8,"c":0.9,"m":1.02,"b":1.17,"v":40000,"d":"d"},
{"t":2022.85,"h":1.0,"l":0.78,"c":0.85,"m":0.95,"b":1.13,"v":20000,"d":"d"},
{"t":2022.90,"h":0.95,"l":0.75,"c":0.82,"m":0.89,"b":1.1,"v":15000,"d":"u"},
{"t":2022.95,"h":0.9,"l":0.75,"c":0.8,"m":0.86,"b":1.07,"v":10000,"d":"d"},
{"t":2023.00,"h":0.9,"l":0.75,"c":0.82,"m":0.88,"b":1.03,"v":15000,"d":"n"},
{"t":2023.05,"h":0.98,"l":0.8,"c":0.9,"m":0.91,"b":1.01,"v":20000,"d":"u"},
{"t":2023.10,"h":1.0,"l":0.82,"c":0.92,"m":0.93,"b":0.99,"v":15000,"d":"d"},
{"t":2023.15,"h":0.97,"l":0.8,"c":0.88,"m":0.92,"b":0.97,"v":10000,"d":"d"},
{"t":2023.20,"h":0.9,"l":0.75,"c":0.8,"m":0.89,"b":0.95,"v":20000,"d":"n"},
{"t":2023.25,"h":0.88,"l":0.72,"c":0.8,"m":0.86,"b":0.93,"v":15000,"d":"u"},
{"t":2023.30,"h":0.86,"l":0.71,"c":0.78,"m":0.85,"b":0.93,"v":10000,"d":"d"},
{"t":2023.35,"h":0.85,"l":0.72,"c":0.8,"m":0.84,"b":0.92,"v":15000,"d":"u"},
{"t":2023.40,"h":1.14,"l":0.72,"c":0.8,"m":0.83,"b":0.92,"v":35000,"d":"u"},
{"t":2023.45,"h":0.85,"l":0.72,"c":0.78,"m":0.82,"b":0.92,"v":20000,"d":"d"},
{"t":2023.50,"h":0.86,"l":0.72,"c":0.8,"m":0.82,"b":0.91,"v":10000,"d":"n"},
{"t":2023.55,"h":0.86,"l":0.72,"c":0.8,"m":0.82,"b":0.91,"v":15000,"d":"u"},
{"t":2023.60,"h":0.85,"l":0.7,"c":0.78,"m":0.82,"b":0.91,"v":20000,"d":"d"},
{"t":2023.65,"h":0.85,"l":0.71,"c":0.78,"m":0.82,"b":0.9,"v":10000,"d":"n"},
{"t":2023.70,"h":0.84,"l":0.71,"c":0.78,"m":0.82,"b":0.9,"v":15000,"d":"u"},
{"t":2023.75,"h":0.84,"l":0.7,"c":0.76,"m":0.8,"b":0.89,"v":10000,"d":"d"},
{"t":2023.80,"h":0.82,"l":0.68,"c":0.74,"m":0.78,"b":0.88,"v":15000,"d":"d"},
{"t":2023.85,"h":0.75,"l":0.6,"c":0.68,"m":0.76,"b":0.87,"v":20000,"d":"u"},
{"t":2023.90,"h":0.72,"l":0.55,"c":0.62,"m":0.75,"b":0.86,"v":10000,"d":"d"},
{"t":2023.95,"h":0.72,"l":0.56,"c":0.65,"m":0.73,"b":0.85,"v":15000,"d":"n"},
{"t":2024.00,"h":0.7,"l":0.55,"c":0.63,"m":0.71,"b":0.84,"v":10000,"d":"d"},
{"t":2024.05,"h":0.68,"l":0.55,"c":0.62,"m":0.69,"b":0.83,"v":15000,"d":"d"},
{"t":2024.10,"h":0.66,"l":0.52,"c":0.6,"m":0.67,"b":0.82,"v":20000,"d":"u"},
{"t":2024.15,"h":0.65,"l":0.5,"c":0.58,"m":0.65,"b":0.81,"v":10000,"d":"d"},
{"t":2024.20,"h":0.64,"l":0.5,"c":0.56,"m":0.64,"b":0.8,"v":15000,"d":"d"},
{"t":2024.25,"h":0.62,"l":0.48,"c":0.55,"m":0.62,"b":0.78,"v":20000,"d":"d"},
{"t":2024.30,"h":0.6,"l":0.42,"c":0.47,"m":0.6,"b":0.76,"v":10000,"d":"u"}
],
"lab":[
{"y":"2009","t":2009.66},{"y":"2010","t":2010.5},{"y":"2011","t":2011.5},{"y":"2012","t":2012.5},{"y":"2013","t":2013.5},{"y":"2014","t":2014.5},{"y":"2015","t":2015.5},{"y":"2016","t":2016.5},{"y":"2017","t":2017.5},{"y":"2018","t":2018.5},{"y":"2019","t":2019.5},{"y":"2020","t":2020.5},{"y":"2021","t":2021.5},{"y":"2022","t":2022.5},{"y":"2023","t":2023.5},{"y":"2024","t":2024.14}
]
},
"spacing":1,
"vconcat":[
{
"width":789,"height":369,
"title":{"text":"Cdn:FP","anchor":"start","offset":-16,"dx":8},
"data":{"name":"px"},
"encoding":{"x":{"field":"t","type":"quantitative","scale":{"domain":[2009.313,2024.362],"nice":false,"zero":false},"axis":{"values":[2010,2011,2012,2013,2014,2015,2016,2017,2018,2019,2020,2021,2022,2023,2024],"grid":true,"labels":false,"ticks":false,"domain":false,"title":null}}},
"resolve":{"axis":{"y":"independent"}},
"layer":[
{"mark":{"type":"rule","color":"black","strokeWidth":2.6},"encoding":{"y":{"field":"l","type":"quantitative","scale":{"domain":[0,7.95],"nice":false,"zero":false},"axis":{"orient":"right","values":[0.4,0.8,1.2,1.6,2.0,2.4,2.8,3.2,3.6,4.0,4.4,4.8,5.2,5.6,6.0,6.4,6.8,7.2,7.6],"format":".2f","grid":true,"title":null,"ticks":false,"domain":false,"labelPadding":4,"labelOverlap":false}},"y2":{"field":"h"}}},
{"mark":{"type":"tick","orient":"horizontal","color":"#ff0000","size":5,"thickness":3},"encoding":{"y":{"field":"c","type":"quantitative","axis":null}}},
{"mark":{"type":"line","color":"#ff00ff","strokeWidth":1.3},"encoding":{"y":{"field":"m","type":"quantitative","axis":null}}},
{"mark":{"type":"line","color":"#0000ff","strokeWidth":1.3},"encoding":{"y":{"field":"b","type":"quantitative","axis":null}}}
]
},
{
"spacing":0,
"vconcat":[
{
"width":789,"height":106,
"title":{"text":"Volume","anchor":"start","offset":-16,"dx":8},
"data":{"name":"px"},
"mark":{"type":"bar","size":2},
"encoding":{
"x":{"field":"t","type":"quantitative","scale":{"domain":[2009.313,2024.362],"nice":false,"zero":false},"axis":{"values":[2010,2011,2012,2013,2014,2015,2016,2017,2018,2019,2020,2021,2022,2023,2024],"grid":true,"labels":false,"ticks":false,"domain":false,"title":null}},
"y":{"field":"v","type":"quantitative","stack":null,"scale":{"domain":[-11540,600000],"nice":false},"axis":{"orient":"right","values":[150000,300000,450000],"labelExpr":"(datum.value/1000) + ' k'","grid":true,"title":null,"ticks":false,"domain":false,"labelPadding":4}},
"color":{"field":"d","type":"nominal","scale":{"domain":["u","d","n"],"range":["#4cb44c","#ff0000","#a8a8a8"]},"legend":null}
}
},
{
"width":789,"height":32,
"view":{"stroke":null},
"data":{"name":"lab"},
"mark":{"type":"text","fontSize":13,"color":"black","baseline":"middle","align":"center"},
"encoding":{
"x":{"field":"t","type":"quantitative","scale":{"domain":[2009.313,2024.362],"nice":false,"zero":false},"axis":{"values":[2009.318,2010,2011,2012,2013,2014,2015,2016,2017,2018,2019,2020,2021,2022,2023,2024,2024.357],"grid":true,"gridColor":"black","gridWidth":2,"labels":false,"ticks":false,"domain":false,"title":null}},
"y":{"datum":0.5,"type":"quantitative","scale":{"domain":[0,2],"nice":false},"axis":{"values":[0.03,1,1.97],"grid":true,"gridColor":"black","gridWidth":2,"labels":false,"ticks":false,"domain":false,"title":null}},
"text":{"field":"y"}
}
}
]
}
]
}
